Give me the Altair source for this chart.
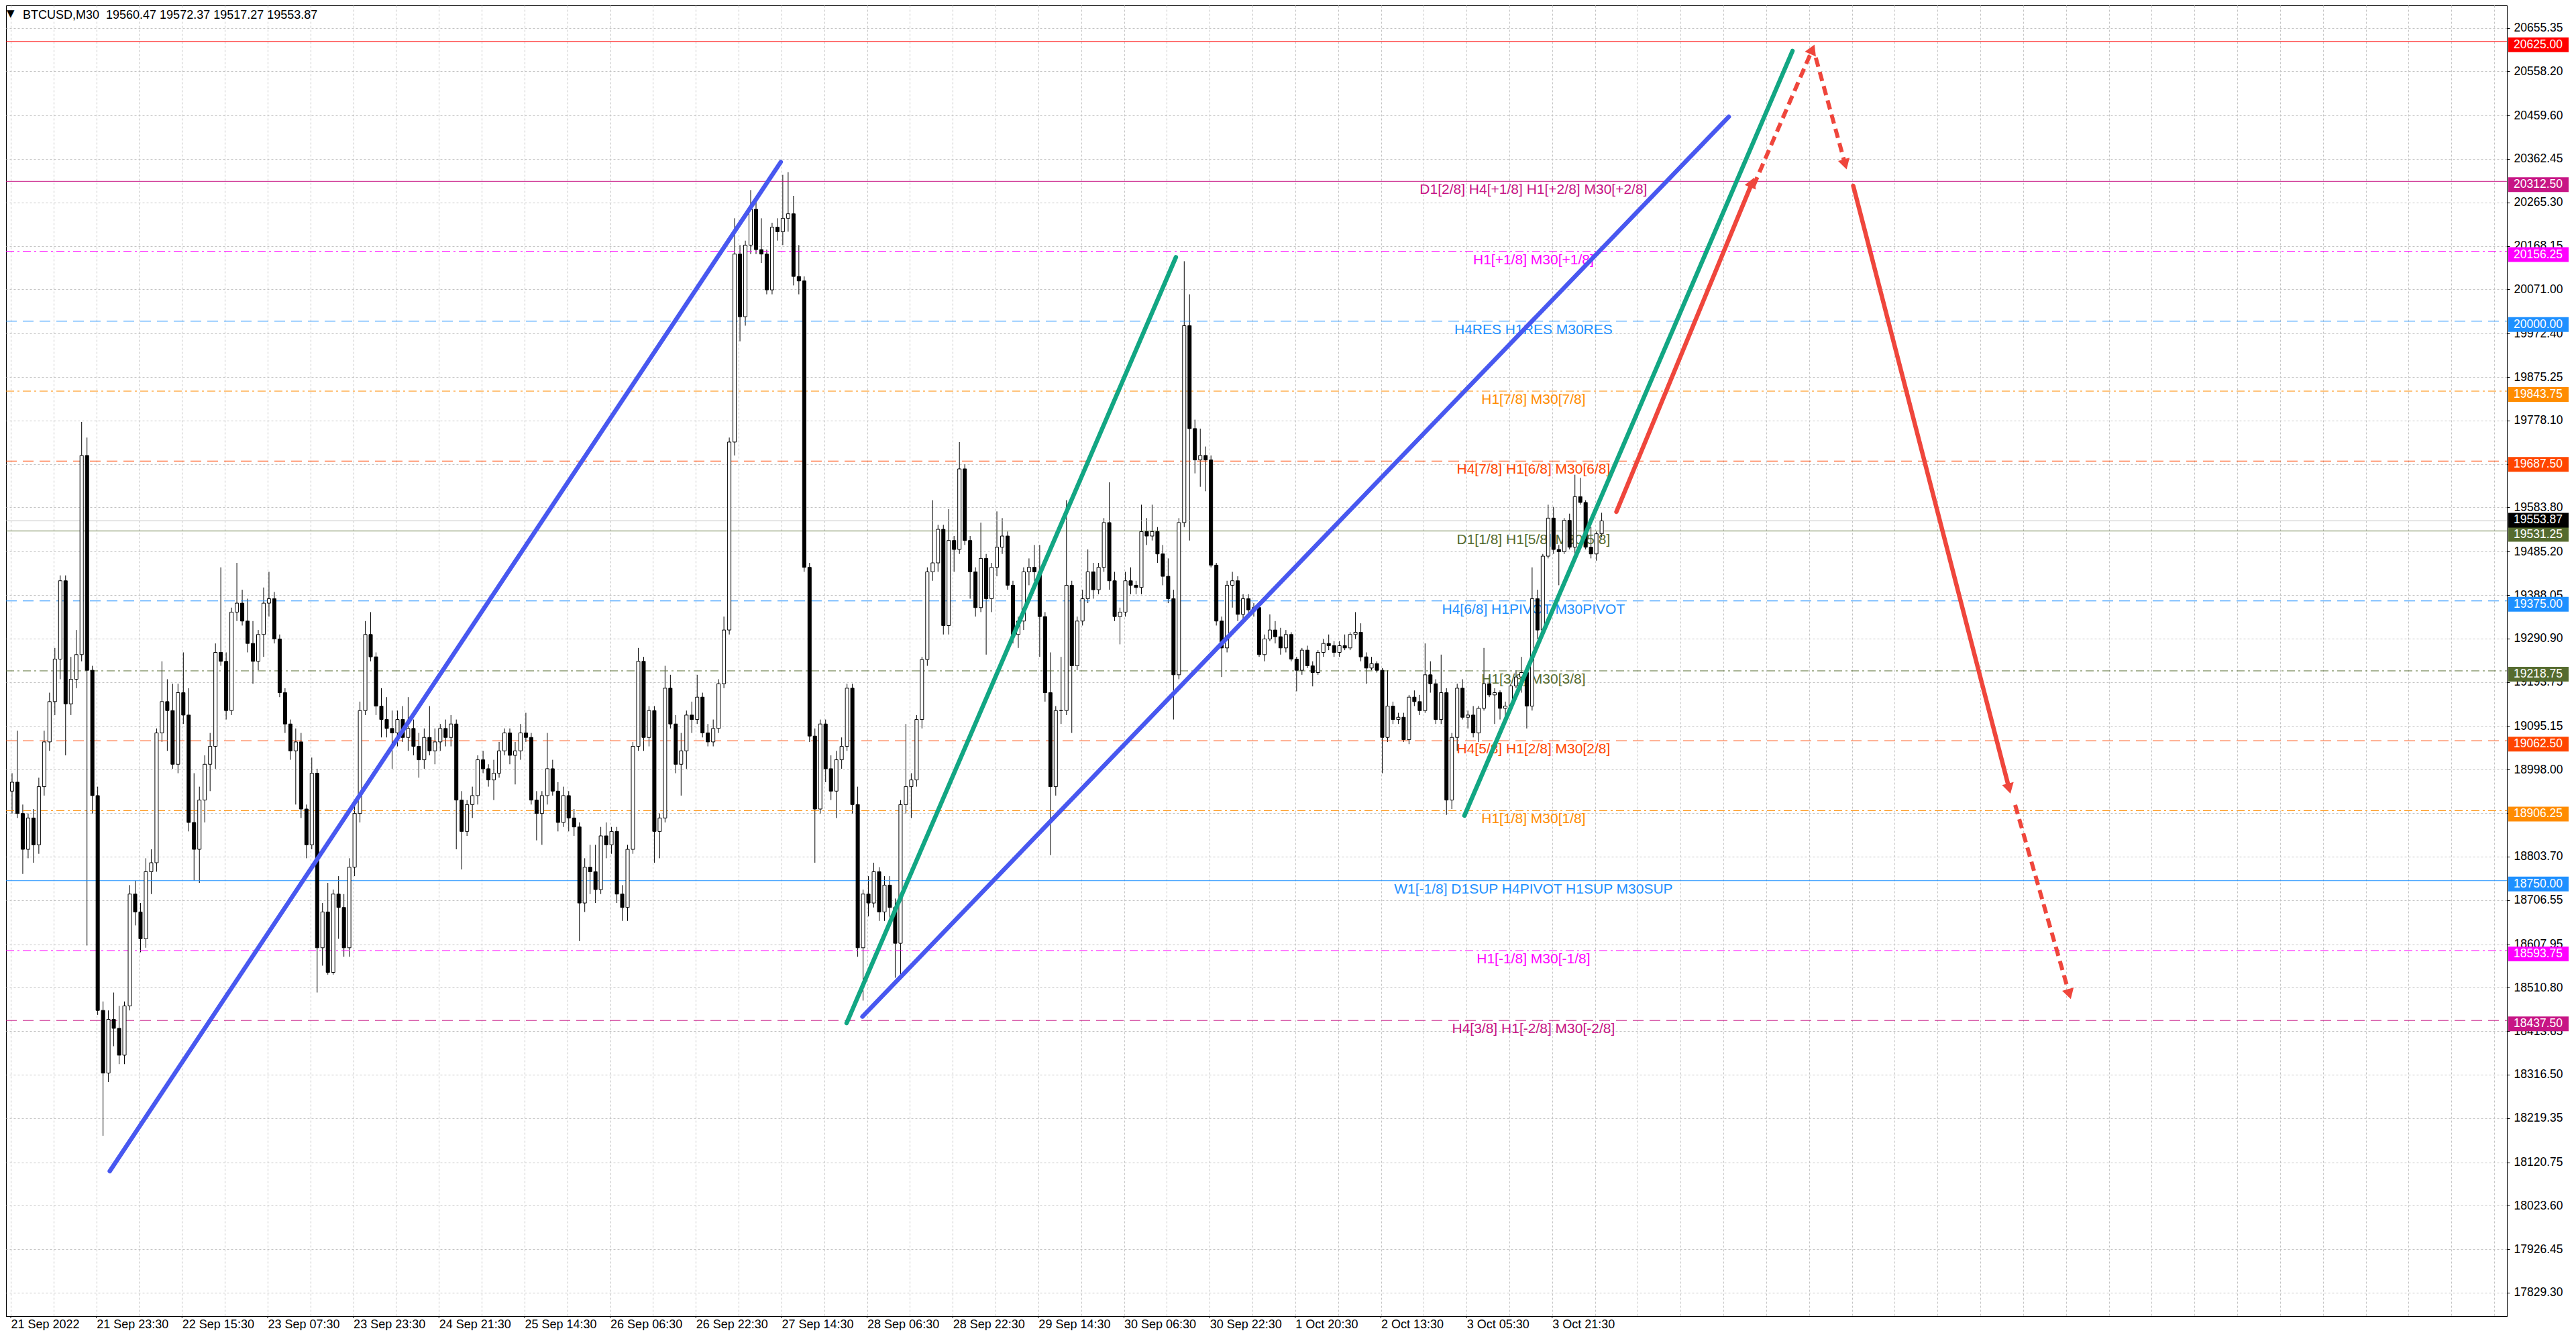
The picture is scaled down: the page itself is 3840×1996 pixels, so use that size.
import json, math
import altair as alt
import pandas as pd

W, H = 3728, 1954
X_DOMAIN = [-0.5, 931.5]
Y_DOMAIN = [17776.8, 20705.7]
PX_BAR = W / (X_DOMAIN[1] - X_DOMAIN[0])
PX_PRICE = H / (Y_DOMAIN[1] - Y_DOMAIN[0])

# ---------------- candle data (H1 granularity) -------------
opens = [18950, 18970, 18900, 18820, 18890, 18830, 18960, 19060, 19150, 19245,
         19420, 19145, 19200, 19255, 19700, 19220, 18940, 18460, 18320, 18440,
         18420, 18360, 18470, 18720, 18680, 18620, 18770, 18790, 19080, 19150,
         19130, 19010, 19170, 19120, 18880, 18820, 18930, 19010, 19050, 19260,
         19240, 19130, 19350, 19370, 19330, 19280, 19240, 19300, 19370, 19380,
         19290, 19170, 19100, 19040, 19060, 18910, 18830, 18990, 18600, 18680,
         18545, 18720, 18690, 18600, 18780, 18900, 19130, 19300, 19250, 19140,
         19110, 19090, 19080, 19110, 19070, 19090, 19050, 19020, 19070, 19040,
         19060, 19090, 19070, 19100, 18930, 18860, 18920, 18940, 19020, 19000,
         18975, 18990, 19040, 19080, 19030, 19040, 19080, 19070, 18930, 18900,
         18940, 19000, 18950, 18880, 18940, 18890, 18870, 18700, 18780, 18770,
         18730, 18850, 18830, 18860, 18720, 18690, 18820, 19050, 19240, 19070,
         19130, 18860, 18890, 19180, 19100, 19010, 19040, 19120, 19110, 19160,
         19080, 19060, 19090, 19190, 19310, 19730, 20150, 20010, 20170, 20250,
         20160, 20150, 20070, 20210, 20200, 20230, 20240, 20100, 20090, 19450,
         19073, 18910, 19100, 19000, 18950, 19020, 19050, 19180, 18920, 18600,
         18720, 18700, 18770, 18680, 18740, 18690, 18610, 18920, 18960, 18975,
         19110, 19244, 19440, 19460, 19535, 19320, 19510, 19490, 19670, 19510,
         19440, 19360, 19470, 19380, 19450, 19495, 19520, 19410, 19300, 19330,
         19440, 19450, 19440, 19340, 19170, 18960, 19130, 19130, 19410, 19230,
         19330, 19380, 19440, 19400, 19450, 19550, 19420, 19340, 19350, 19420,
         19410, 19405, 19530, 19520, 19530, 19480, 19430, 19380, 19210, 19550,
         19990, 19760, 19690, 19700, 19690, 19455, 19330, 19270, 19410, 19420,
         19345, 19380, 19355, 19360, 19255, 19290, 19310, 19295, 19270, 19300,
         19245, 19220, 19265, 19230, 19215, 19260, 19280, 19275, 19260, 19275,
         19270, 19300, 19305, 19250, 19225, 19235, 19220, 19070, 19140, 19110,
         19115, 19065, 19160, 19150, 19130, 19210, 19190, 19110, 19170, 18930,
         19070, 19180, 19115, 19120, 19080, 19135, 19190, 19165, 19170, 19135,
         19140, 19185, 19205, 19215, 19140, 19380, 19310, 19475, 19560, 19490,
         19485, 19555, 19495, 19608, 19595, 19495, 19480, 19525]
highs = [18990, 19085, 18920, 18900, 18910, 18980, 19085, 19170, 19270, 19432,
         19432, 19250, 19310, 19775, 19740, 19230, 18960, 18480, 18460, 18500,
         18470, 18480, 18740, 18750, 18700, 18800, 18820, 19090, 19240, 19200,
         19190, 19190, 19260, 19180, 18990, 18960, 19030, 19080, 19280, 19450,
         19260, 19360, 19460, 19400, 19380, 19330, 19310, 19405, 19440, 19395,
         19300, 19180, 19110, 19090, 19080, 18920, 19025, 19000, 18700, 18745,
         18730, 18760, 18720, 18800, 18930, 19150, 19330, 19350, 19260, 19180,
         19160, 19130, 19130, 19140, 19160, 19110, 19080, 19090, 19140, 19090,
         19100, 19110, 19120, 19110, 18950, 18930, 18960, 19030, 19040, 19010,
         19020, 19060, 19090, 19090, 19060, 19100, 19125, 19080, 18950, 18950,
         19080, 19020, 18970, 18960, 18950, 18910, 18880, 18800, 18830, 18830,
         18870, 18880, 18870, 18870, 18740, 18830, 19060, 19270, 19250, 19140,
         19140, 18900, 19230, 19210, 19120, 19080, 19130, 19150, 19210, 19170,
         19100, 19110, 19200, 19340, 19740, 20230, 20170, 20180, 20293, 20270,
         20230, 20160, 20220, 20230, 20327, 20333, 20280, 20170, 20100, 19460,
         19090, 19110, 19110, 19030, 19040, 19070, 19190, 19190, 18960, 18730,
         18760, 18790, 18780, 18760, 18760, 18710, 18930, 19100, 18990, 19120,
         19250, 19450, 19600, 19545, 19545, 19580, 19520, 19730, 19680, 19520,
         19450, 19550, 19480, 19460, 19575, 19560, 19530, 19420, 19340, 19450,
         19470, 19500, 19500, 19350, 19260, 19140, 19250, 19600, 19420, 19340,
         19400, 19490, 19460, 19460, 19560, 19640, 19440, 19360, 19440, 19450,
         19420, 19590, 19560, 19590, 19540, 19500, 19470, 19400, 19560, 20134,
         20060, 19780, 19760, 19720, 19700, 19460, 19340, 19420, 19440, 19430,
         19390, 19390, 19370, 19370, 19300, 19345, 19330, 19315, 19310, 19305,
         19250, 19270, 19275, 19240, 19265, 19290, 19300, 19285, 19285, 19300,
         19305, 19350, 19325, 19260, 19250, 19240, 19225, 19220, 19150, 19125,
         19125, 19165, 19175, 19165, 19280, 19240, 19200, 19255, 19180, 19080,
         19190, 19200, 19130, 19140, 19140, 19270, 19210, 19180, 19175, 19150,
         19190, 19220, 19250, 19230, 19450, 19400, 19480, 19590, 19585, 19500,
         19560, 19570, 19657, 19650, 19600, 19540, 19530, 19572]
lows = [18900, 18890, 18765, 18800, 18790, 18810, 18940, 19040, 19120, 19200,
        19030, 19120, 19180, 19240, 18605, 18900, 18450, 18180, 18300, 18380,
        18340, 18340, 18460, 18650, 18590, 18600, 18720, 18770, 19060, 19040,
        19000, 18990, 19100, 18860, 18750, 18745, 18880, 18950, 19000, 19230,
        19110, 19120, 19330, 19320, 19260, 19190, 19220, 19250, 19340, 19280,
        19160, 19080, 19020, 18920, 18890, 18800, 18820, 18500, 18560, 18540,
        18540, 18620, 18580, 18580, 18760, 18880, 19120, 19240, 19120, 19070,
        19070, 19000, 19050, 19060, 19040, 19030, 18980, 19000, 19030, 19010,
        19040, 19050, 19050, 18820, 18775, 18850, 18890, 18920, 18990, 18960,
        18930, 18980, 19030, 19010, 18965, 19020, 19060, 18920, 18840, 18830,
        18920, 18940, 18860, 18870, 18860, 18850, 18615, 18680, 18720, 18700,
        18720, 18800, 18810, 18700, 18660, 18660, 18810, 19040, 19040, 19050,
        18790, 18800, 18880, 19090, 18990, 18940, 19000, 19080, 19100, 19070,
        19050, 19050, 19080, 19180, 19300, 19700, 19955, 19990, 20150, 20150,
        20130, 20060, 20060, 20180, 20170, 20200, 20080, 20060, 19440, 19060,
        18790, 18900, 18970, 18930, 18890, 19000, 19040, 18900, 18580, 18482,
        18670, 18690, 18660, 18660, 18660, 18533, 18540, 18900, 18890, 18960,
        19090, 19230, 19420, 19440, 19300, 19300, 19440, 19480, 19500, 19380,
        19340, 19350, 19255, 19350, 19430, 19480, 19400, 19280, 19270, 19310,
        19410, 19420, 19250, 19150, 18807, 18940, 19100, 19120, 19080, 19220,
        19320, 19370, 19380, 19390, 19440, 19400, 19330, 19278, 19340, 19390,
        19390, 19390, 19500, 19510, 19460, 19410, 19370, 19110, 19200, 19540,
        19510, 19660, 19630, 19620, 19450, 19320, 19205, 19260, 19360, 19330,
        19335, 19340, 19340, 19250, 19240, 19285, 19280, 19255, 19260, 19240,
        19173, 19210, 19225, 19184, 19210, 19250, 19265, 19250, 19250, 19265,
        19265, 19290, 19240, 19190, 19220, 19215, 18990, 19060, 19100, 19100,
        19060, 19055, 19140, 19120, 19125, 19170, 19100, 19100, 18897, 18910,
        19040, 19110, 19090, 19070, 19060, 19130, 19160, 19100, 19110, 19100,
        19130, 19180, 19170, 19090, 19130, 19290, 19300, 19470, 19480, 19410,
        19480, 19490, 19480, 19590, 19490, 19470, 19465, 19517]
closes = [18970, 18900, 18820, 18890, 18830, 18960, 19060, 19150, 19245, 19420,
          19145, 19200, 19255, 19700, 19220, 18940, 18460, 18320, 18440, 18420,
          18360, 18470, 18720, 18680, 18620, 18770, 18790, 19080, 19150, 19130,
          19010, 19170, 19120, 18880, 18820, 18930, 19010, 19050, 19260, 19240,
          19130, 19350, 19370, 19330, 19280, 19240, 19300, 19370, 19380, 19290,
          19170, 19100, 19040, 19060, 18910, 18830, 18990, 18600, 18680, 18545,
          18720, 18690, 18600, 18780, 18900, 19130, 19300, 19250, 19140, 19110,
          19090, 19080, 19110, 19070, 19090, 19050, 19020, 19070, 19040, 19060,
          19090, 19070, 19100, 18930, 18860, 18920, 18940, 19020, 19000, 18975,
          18990, 19040, 19080, 19030, 19040, 19080, 19070, 18930, 18900, 18940,
          19000, 18950, 18880, 18940, 18890, 18870, 18700, 18780, 18770, 18730,
          18850, 18830, 18860, 18720, 18690, 18820, 19050, 19240, 19070, 19130,
          18860, 18890, 19180, 19100, 19010, 19040, 19120, 19110, 19160, 19080,
          19060, 19090, 19190, 19310, 19730, 20150, 20010, 20170, 20250, 20160,
          20150, 20070, 20210, 20200, 20230, 20240, 20100, 20090, 19450, 19073,
          18910, 19100, 19000, 18950, 19020, 19050, 19180, 18920, 18600, 18720,
          18700, 18770, 18680, 18740, 18690, 18610, 18920, 18960, 18975, 19110,
          19244, 19440, 19460, 19535, 19320, 19510, 19490, 19670, 19510, 19440,
          19360, 19470, 19380, 19450, 19495, 19520, 19410, 19300, 19330, 19440,
          19450, 19440, 19340, 19170, 18960, 19130, 19130, 19410, 19230, 19330,
          19380, 19440, 19400, 19450, 19550, 19420, 19340, 19350, 19420, 19410,
          19405, 19530, 19520, 19530, 19480, 19430, 19380, 19210, 19550, 19990,
          19760, 19690, 19700, 19690, 19455, 19330, 19270, 19410, 19420, 19345,
          19380, 19355, 19360, 19255, 19290, 19310, 19295, 19270, 19300, 19245,
          19220, 19265, 19230, 19215, 19260, 19280, 19275, 19260, 19275, 19270,
          19300, 19305, 19250, 19225, 19235, 19220, 19070, 19140, 19110, 19115,
          19065, 19160, 19150, 19130, 19210, 19190, 19110, 19170, 18930, 19070,
          19180, 19115, 19120, 19080, 19135, 19190, 19165, 19170, 19135, 19140,
          19185, 19205, 19215, 19140, 19380, 19310, 19475, 19560, 19490, 19485,
          19555, 19495, 19608, 19595, 19495, 19480, 19525, 19553.87]

# ---------------- axes text ----------------
y_ticks = [20655.35, 20558.20, 20459.60, 20362.45, 20265.30, 20168.15, 20071.00,
           19972.40, 19875.25, 19778.10, 19680.95, 19583.80, 19485.20, 19388.05,
           19290.90, 19193.75, 19095.15, 18998.00, 18900.85, 18803.70, 18706.55,
           18607.95, 18510.80, 18413.65, 18316.50, 18219.35, 18120.75, 18023.60,
           17926.45, 17829.30]
x_labels = ["21 Sep 2022", "21 Sep 23:30", "22 Sep 15:30", "23 Sep 07:30",
            "23 Sep 23:30", "24 Sep 21:30", "25 Sep 14:30", "26 Sep 06:30",
            "26 Sep 22:30", "27 Sep 14:30", "28 Sep 06:30", "28 Sep 22:30",
            "29 Sep 14:30", "30 Sep 06:30", "30 Sep 22:30", "1 Oct 20:30",
            "2 Oct 13:30", "3 Oct 05:30", "3 Oct 21:30"]
x_label_step = 32          # M30 bars between labels
x_grid_step = 16

title_symbol = ["\u25BC"]
title_text = ["BTCUSD,M30\u00a0\u00a019560.47 19572.37 19517.27 19553.87"]

# ---------------- horizontal levels ----------------
level_prices = [20625.00, 20312.50, 20156.25, 20000.00, 19843.75, 19687.50, 19531.25,
                19375.00, 19218.75, 19062.50, 18906.25, 18750.00, 18593.75, 18437.50]
level_texts = ["", "D1[2/8] H4[+1/8] H1[+2/8] M30[+2/8]", "H1[+1/8] M30[+1/8]",
               "H4RES H1RES M30RES", "H1[7/8] M30[7/8]", "H4[7/8] H1[6/8] M30[6/8]",
               "D1[1/8] H1[5/8] M30[5/8]", "H4[6/8] H1PIVOT M30PIVOT", "H1[3/8] M30[3/8]",
               "H4[5/8] H1[2/8] M30[2/8]", "H1[1/8] M30[1/8]",
               "W1[-1/8] D1SUP H4PIVOT H1SUP M30SUP", "H1[-1/8] M30[-1/8]",
               "H4[3/8] H1[-2/8] M30[-2/8]"]
level_colors = ["#FF0000", "#C71585", "#FF00FF", "#1E90FF", "#FF8C00", "#FF4500", "#556B2F",
                "#1E90FF", "#556B2F", "#FF4500", "#FF8C00", "#1E90FF", "#FF00FF", "#C71585"]
level_styles = ["solid", "solid", "dashdot", "dash", "dashdot", "dash", "solid",
                "dash", "dashdot", "dash", "dashdot", "solid", "dashdot", "dash"]
level_label_bar = 569
last_price = [19553.87]

# ---------------- drawn trend lines / arrows ----------------
seg_b1 = [37.0, 318.25, 312.35, 543.2, 600.0, 651.25, 674.5, 688.5, 749.0]
seg_p1 = [18100.8, 18446.2, 18431.7, 18895.2, 19574.2, 20302.5, 20588.8, 20302.5, 18919.1]
seg_b2 = [287.75, 642.0, 435.4, 665.8, 650.75, 673.25, 685.5, 746.75, 769.25]
seg_p2 = [20355.7, 20456.9, 20143.0, 20603.8, 20310.0, 20607.5, 20350.5, 18955.8, 18496.4]
seg_colors = ["#4858F0", "#4858F0", "#12A683", "#12A683", "#EF463C", "#EF463C",
              "#EF463C", "#EF463C", "#EF463C"]
seg_dashed = [False, False, False, False, False, True, True, False, True]
seg_arrow = [False, False, False, False, True, True, True, True, True]

# ---------------- build frames ----------------
cdf = pd.DataFrame({"b": [0.5 + 2 * i for i in range(len(opens))],
                    "o": opens, "h": highs, "l": lows, "c": closes})
cdf["lo"] = cdf[["o", "c"]].min(axis=1)
cdf["hi"] = cdf[["o", "c"]].max(axis=1)
cdf["up"] = cdf["c"] >= cdf["o"]

ldf = pd.DataFrame({"p": level_prices, "t": level_texts, "col": level_colors,
                    "st": level_styles, "b": level_label_bar})
sdf = pd.DataFrame({"b1": seg_b1, "p1": seg_p1, "b2": seg_b2, "p2": seg_p2,
                    "col": seg_colors, "dashed": seg_dashed, "arrow": seg_arrow})
sdf["ang"] = [math.degrees(math.atan2((r.b2 - r.b1) * PX_BAR, (r.p2 - r.p1) * PX_PRICE)) % 360
              for r in sdf.itertuples()]

AXF = "Liberation Sans, Arial, sans-serif"
SANS = "Liberation Sans, Arial, sans-serif"

xs = alt.Scale(domain=X_DOMAIN, nice=False, zero=False)
ys = alt.Scale(domain=Y_DOMAIN, nice=False, zero=False)

label_expr = ("datum.value % {s} == 0 && datum.value / {s} < {n} ? {arr}[datum.value / {s}] : ''"
              .format(s=x_label_step, n=len(x_labels), arr=json.dumps(x_labels)))

x_axis = alt.Axis(values=list(range(0, int(X_DOMAIN[1]) + 1, x_grid_step)), grid=True,
                  gridColor="#C4C4C4", gridDash=[3, 3], gridWidth=1, ticks=False, tickSize=0,
                  domain=True, domainColor="#000000", labelExpr=label_expr, labelAlign="left",
                  labelBaseline="top", labelPadding=3, labelFont=AXF, labelFontSize=18,
                  labelColor="#000000", labelOverlap=False, labelFlush=False, labelBound=False,
                  title=None, orient="bottom")
y_axis = alt.Axis(values=y_ticks, orient="right", format=".2f", grid=True, gridColor="#C4C4C4",
                  gridDash=[3, 3], gridWidth=1, ticks=True, tickSize=4, tickColor="#000000",
                  domain=True, domainColor="#000000", labelFont=AXF, labelFontSize=17.5,
                  labelPadding=6, labelColor="#000000", labelOverlap=False, labelFlush=False,
                  labelBound=False, title=None)


def X(field):
    return alt.X(field, scale=xs, axis=x_axis)


def Y(field):
    return alt.Y(field, scale=ys, axis=y_axis)


# candles
wicks = alt.Chart(cdf).mark_rule(color="#000000", strokeWidth=1).encode(
    x=X("b:Q"), y=Y("l:Q"), y2="h:Q")
bodies = alt.Chart(cdf).mark_bar(size=5, stroke="#000000", strokeWidth=1).encode(
    x=X("b:Q"), y=Y("lo:Q"), y2="hi:Q",
    fill=alt.condition("datum.up", alt.value("#FFFFFF"), alt.value("#000000")))

dash_map = {"solid": None, "dash": [16, 9], "dashdot": [12, 5, 3, 5]}
level_layers = []
for st, dash in dash_map.items():
    sub = ldf[ldf["st"] == st]
    kw = {"strokeWidth": 1}
    if dash:
        kw["strokeDash"] = dash
    level_layers.append(alt.Chart(sub).mark_rule(**kw).encode(
        y=Y("p:Q"), x=alt.value(0), x2=alt.value(W),
        color=alt.Color("col:N", scale=None)))

level_text = alt.Chart(ldf[ldf["t"] != ""]).mark_text(
    font=SANS, fontSize=21, align="center", baseline="alphabetic", dy=19).encode(
    x=X("b:Q"), y=Y("p:Q"), text="t:N", color=alt.Color("col:N", scale=None))

price_line = alt.Chart(pd.DataFrame({"p": last_price})).mark_rule(
    color="#C0C0C0", strokeWidth=1).encode(y=Y("p:Q"), x=alt.value(0), x2=alt.value(W))

# x-axis ticks only at labelled positions
tdf = pd.DataFrame({"b": [x_label_step * k for k in range(len(x_labels))]})
x_ticks = alt.Chart(tdf).mark_rule(color="#000000", strokeWidth=1).encode(
    x=X("b:Q"), y=alt.value(H), y2=alt.value(H + 3))

seg_solid = alt.Chart(sdf[~sdf["dashed"]]).mark_rule(strokeWidth=6.5, strokeCap="round").encode(
    x=X("b1:Q"), y=Y("p1:Q"), x2="b2:Q", y2="p2:Q", color=alt.Color("col:N", scale=None))
seg_dash = alt.Chart(sdf[sdf["dashed"]]).mark_rule(strokeWidth=6, strokeDash=[14, 8]).encode(
    x=X("b1:Q"), y=Y("p1:Q"), x2="b2:Q", y2="p2:Q", color=alt.Color("col:N", scale=None))
heads = alt.Chart(sdf[sdf["arrow"]]).mark_point(shape="triangle-up", filled=True, size=320,
                                                 opacity=1).encode(
    x=X("b2:Q"), y=Y("p2:Q"),
    angle=alt.Angle("ang:Q", scale=None), color=alt.Color("col:N", scale=None))

# price boxes on the right axis
bdf = ldf[["p", "col"]].copy()
bdf["off"] = 5
bdf = pd.concat([bdf, pd.DataFrame({"p": last_price, "col": ["#000000"], "off": [-1]})])
bdf["top"] = bdf["p"] + (11 - bdf["off"]) / PX_PRICE
bdf["bot"] = bdf["p"] - (11 + bdf["off"]) / PX_PRICE
bdf["lab"] = bdf["p"].map(lambda v: f"{v:.2f}")
boxes = alt.Chart(bdf).mark_rect().encode(
    y=Y("top:Q"), y2="bot:Q", x=alt.value(W + 2), x2=alt.value(W + 92),
    color=alt.Color("col:N", scale=None))
box_text_5 = alt.Chart(bdf[bdf["off"] == 5]).mark_text(
    font=AXF, fontSize=17.5, align="left", baseline="middle", dy=5, color="#FFFFFF").encode(
    y=Y("p:Q"), x=alt.value(W + 10), text="lab:N")
box_text_m = alt.Chart(bdf[bdf["off"] == -1]).mark_text(
    font=AXF, fontSize=17.5, align="left", baseline="middle", dy=-1, color="#FFFFFF").encode(
    y=Y("p:Q"), x=alt.value(W + 10), text="lab:N")

sym = alt.Chart(pd.DataFrame({"t": title_symbol})).mark_text(
    font="DejaVu Sans", fontSize=15, align="left", baseline="alphabetic", color="#000000").encode(
    x=alt.value(1), y=alt.value(17), text="t:N")
ttl = alt.Chart(pd.DataFrame({"t": title_text})).mark_text(
    font=SANS, fontSize=18, align="left", baseline="alphabetic", color="#000000").encode(
    x=alt.value(25), y=alt.value(20), text="t:N")

chart = alt.layer(
    wicks, *level_layers, level_text, price_line, bodies, x_ticks,
    seg_solid, seg_dash, heads, boxes, box_text_5, box_text_m, sym, ttl
).properties(width=W, height=H, padding=0, background="#FFFFFF").configure_view(
    stroke="#000000", strokeWidth=1)

chart.save("out.html", embed_options={"renderer": "svg", "actions": False})
